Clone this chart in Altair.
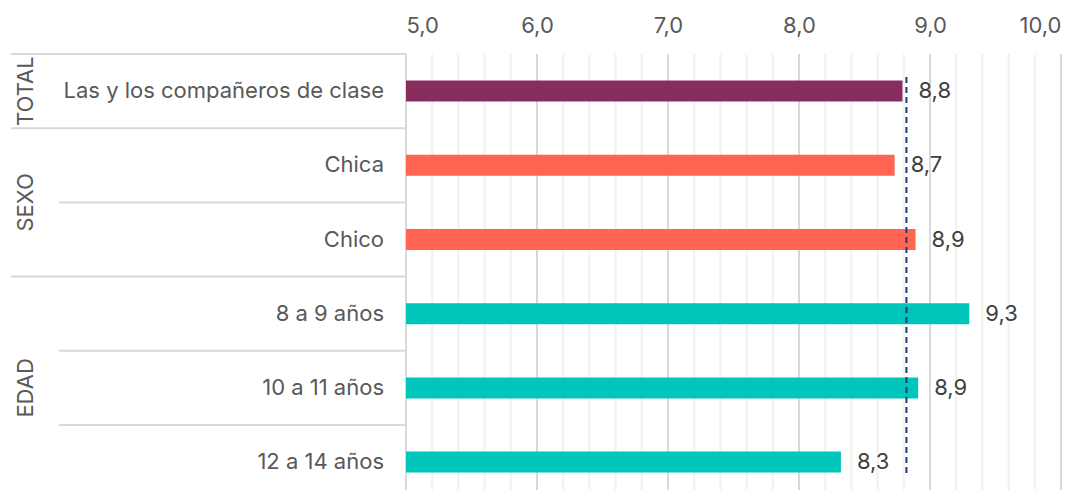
import altair as alt
import pandas as pd

# ---- data ----
categories = ["Las y los compañeros de clase", "Chica", "Chico",
              "8 a 9 años", "10 a 11 años", "12 a 14 años"]
groups = ["TOTAL", "SEXO", "SEXO", "EDAD", "EDAD", "EDAD"]
values = [8.79, 8.73, 8.89, 9.30, 8.91, 8.32]
value_labels = ["8,8", "8,7", "8,9", "9,3", "8,9", "8,3"]
group_names = ["TOTAL", "SEXO", "EDAD"]
group_colors = ["#872E5E", "#FF6550", "#00C5BA"]
mean_value = 8.82
major_ticks = [5, 6, 7, 8, 9, 10]
minor_ticks = [round(5 + 0.2 * k, 1) for k in range(26) if k % 5 != 0]

# ---- derived tables ----
df = pd.DataFrame({
    "cat": categories,
    "group": groups,
    "value": values,
    "label": value_labels,
    "idx": list(range(len(categories))),
    "base": [major_ticks[0]] * len(categories),
})

sep_rows = []
for i in range(len(categories)):
    full = i == 0 or groups[i] != groups[i - 1]
    sep_rows.append({"yb": i - 0.5, "kind": "full" if full else "inner"})
sep_df = pd.DataFrame(sep_rows)

grp_pos = []
for g in group_names:
    ids = [i for i, gg in enumerate(groups) if gg == g]
    grp_pos.append({"group": g, "gy": sum(ids) / len(ids)})
grp_df = pd.DataFrame(grp_pos)

major_df = pd.DataFrame({"t": major_ticks})
minor_df = pd.DataFrame({"t": minor_ticks})
mean_df = pd.DataFrame({"m": [mean_value], "y0": [-0.19], "y1": [len(categories) - 0.85]})

FONT = "Inter"
GRAY = "#595959"
LINE = "#d9d9d9"
FS = 22

y_scale = alt.Scale(domain=[-0.5, 5.376], reverse=True, nice=False, zero=False, padding=0)
x_scale = alt.Scale(domain=[5, 10], nice=False, zero=False, padding=0)

x_axis = alt.Axis(
    orient="top",
    values=major_ticks,
    labelExpr="replace(format(datum.value, '.1f'), '.', ',')",
    labelFont=FONT,
    labelFontSize=FS,
    labelColor=GRAY,
    labelPadding=17,
    domain=False,
    ticks=False,
    tickSize=0,
    grid=False,
    title=None,
)


def X(field):
    return alt.X(field, scale=x_scale, axis=x_axis)


def Y(field):
    return alt.Y(field, scale=y_scale, axis=None)


minor_grid = alt.Chart(minor_df).mark_rule(color="#f0f0f0", strokeWidth=2).encode(x=X("t:Q"))
major_grid = alt.Chart(major_df).mark_rule(color=LINE, strokeWidth=2).encode(x=X("t:Q"))

base = alt.Chart(df)

bars = base.mark_bar(orient="horizontal", size=21).encode(
    x=X("value:Q"),
    x2="base:Q",
    y=Y("idx:Q"),
    color=alt.Color("group:N", scale=alt.Scale(domain=group_names, range=group_colors), legend=None),
)

value_text = base.mark_text(align="left", baseline="middle", dx=16, font=FONT,
                            fontSize=FS, color="#404040").encode(
    x=X("value:Q"),
    y=Y("idx:Q"),
    text="label:N",
)

cat_text = base.mark_text(align="right", baseline="middle", font=FONT,
                          fontSize=FS, color=GRAY).encode(
    x=alt.value(-22),
    y=Y("idx:Q"),
    text="cat:N",
)

group_text = alt.Chart(grp_df).mark_text(angle=270, align="center", baseline="middle", font=FONT,
                                         fontSize=FS, color=GRAY).encode(
    x=alt.value(-380),
    y=Y("gy:Q"),
    text="group:N",
)

sep_full = alt.Chart(sep_df[sep_df["kind"] == "full"]).mark_rule(
    color=LINE, strokeWidth=2).encode(
    y=Y("yb:Q"),
    x=alt.value(-395),
    x2=alt.value(0),
)

sep_inner = alt.Chart(sep_df[sep_df["kind"] == "inner"]).mark_rule(
    color=LINE, strokeWidth=2).encode(
    y=Y("yb:Q"),
    x=alt.value(-347),
    x2=alt.value(0),
)

mean_rule = alt.Chart(mean_df).mark_rule(
    color="#1F3B73", strokeWidth=2, strokeDash=[6, 4]).encode(
    x=X("m:Q"),
    y=Y("y0:Q"),
    y2="y1:Q",
)

chart = alt.layer(minor_grid, major_grid, sep_full, sep_inner, bars, mean_rule,
                  value_text, cat_text, group_text).properties(
    width=655,
    height=436,
    padding={"left": 2, "top": 6, "right": 0, "bottom": 0},
).configure_view(stroke=None)

chart.save("out.html", embed_options={"renderer": "svg", "actions": False})
